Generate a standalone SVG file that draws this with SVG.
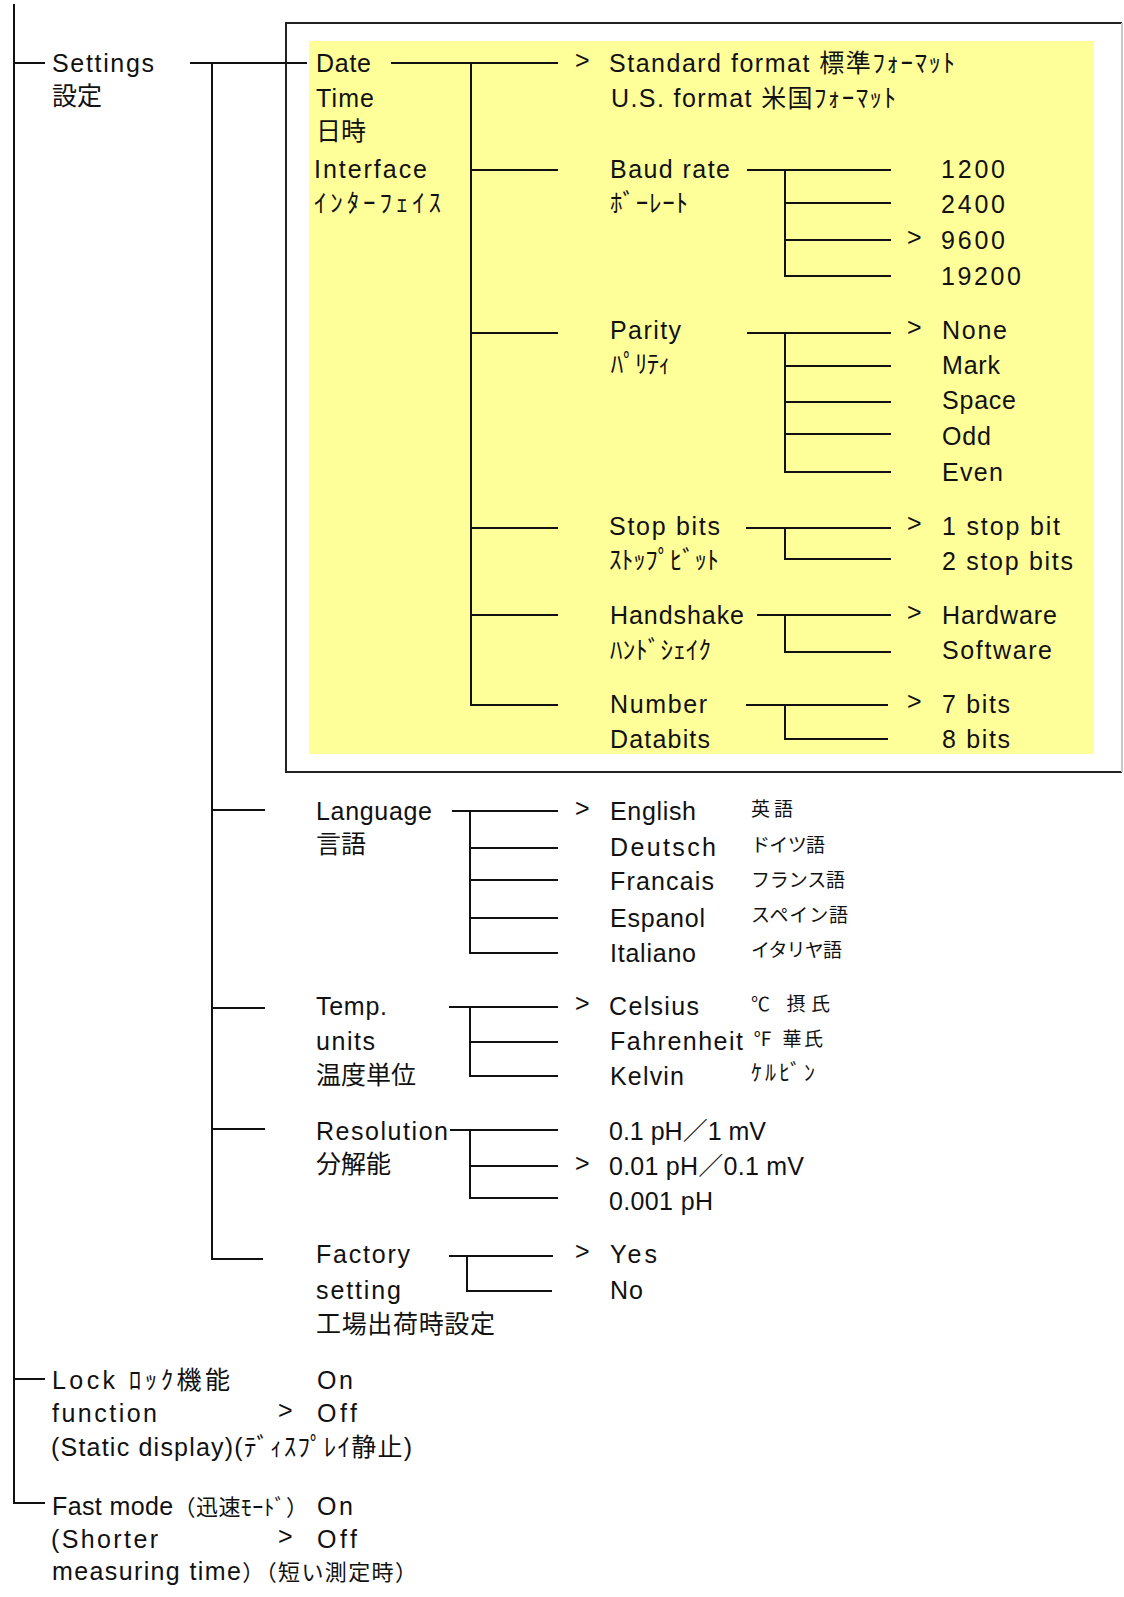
<svg xmlns="http://www.w3.org/2000/svg" width="1124" height="1597" viewBox="0 0 1124 1597">
<style>
text{font-family:'Liberation Sans','Noto Sans CJK JP',sans-serif;font-size:25px;fill:#111}
.s{font-size:19px}
.k{font-size:22px}
.c path{stroke:#111;stroke-width:2;fill:none}
</style>
<rect width="1124" height="1597" fill="#fff"/>
<g id="settings-box">
<path d="M1122 23 H286 V772 H1122" fill="none" stroke="#222" stroke-width="2"/>
<path d="M1122 23 V772" stroke="#c8c8c8" stroke-width="2"/>
<rect x="309" y="41" width="785" height="713" fill="#ffff99"/>
</g>
<g class="c" id="connectors">
<path d="M14 4 V1503 H45 M14 63 H45 M14 1379 H45"/>
<path d="M190 63 H307 M212 63 V1259 H263 M212 810 H265 M212 1008 H265 M212 1129 H265"/>
<path d="M391 63 H558 M471 63 V705 H558 M471 170 H558 M471 333 H558 M471 528 H558 M471 615 H558"/>
<path d="M747 170 H891 M785 170 V276 H891 M785 203 H891 M785 240 H891"/>
<path d="M747 333 H891 M785 333 V472 H891 M785 366 H891 M785 402 H891 M785 434 H891"/>
<path d="M746 528 H891 M785 528 V559 H891"/>
<path d="M757 615 H891 M785 615 V652 H891"/>
<path d="M746 705 H888 M785 705 V739 H888"/>
<path d="M452 811 H558 M470 811 V953 H558 M470 848 H558 M470 880 H558 M470 918 H558"/>
<path d="M449 1007 H558 M470 1007 V1076 H558 M470 1042 H558"/>
<path d="M450 1130 H558 M470 1130 V1198 H558 M470 1166 H558"/>
<path d="M449 1256 H553 M467 1256 V1291 H552"/>
</g>
<g id="settings">
<text x="52" y="72" textLength="102" lengthAdjust="spacing">Settings</text>
<text x="52" y="105">設定</text>
</g>
<g id="date-time">
<text x="316" y="72" textLength="55" lengthAdjust="spacing">Date</text>
<text x="316" y="107" textLength="58" lengthAdjust="spacing">Time</text>
<text x="316" y="140">日時</text>
</g>
<g id="date-options">
<text x="575" y="69">&gt;</text>
<text x="609" y="72" textLength="346" lengthAdjust="spacing">Standard format 標準ﾌｫｰﾏｯﾄ</text>
<text x="611" y="107" textLength="285" lengthAdjust="spacing">U.S. format 米国ﾌｫｰﾏｯﾄ</text>
</g>
<g id="interface">
<text x="314" y="178" textLength="113" lengthAdjust="spacing">Interface</text>
<text x="314" y="212" textLength="127" lengthAdjust="spacing">ｲﾝﾀｰﾌｪｲｽ</text>
</g>
<g id="baud-rate">
<text x="610" y="178" textLength="120" lengthAdjust="spacing">Baud rate</text>
<text x="610" y="212" textLength="78" lengthAdjust="spacing">ﾎﾞｰﾚｰﾄ</text>
</g>
<g id="baud-options">
<text x="941" y="178" textLength="64" lengthAdjust="spacing">1200</text>
<text x="941" y="213" textLength="64" lengthAdjust="spacing">2400</text>
<text x="907" y="246">&gt;</text>
<text x="941" y="249" textLength="64" lengthAdjust="spacing">9600</text>
<text x="941" y="285" textLength="80" lengthAdjust="spacing">19200</text>
</g>
<g id="parity">
<text x="610" y="339" textLength="71" lengthAdjust="spacing">Parity</text>
<text x="610" y="373" textLength="60" lengthAdjust="spacing">ﾊﾟﾘﾃｨ</text>
</g>
<g id="parity-options">
<text x="907" y="336">&gt;</text>
<text x="942" y="339" textLength="65" lengthAdjust="spacing">None</text>
<text x="942" y="374" textLength="58" lengthAdjust="spacing">Mark</text>
<text x="942" y="409" textLength="74" lengthAdjust="spacing">Space</text>
<text x="942" y="445" textLength="49" lengthAdjust="spacing">Odd</text>
<text x="942" y="481" textLength="61" lengthAdjust="spacing">Even</text>
</g>
<g id="stop-bits">
<text x="609" y="535" textLength="111" lengthAdjust="spacing">Stop bits</text>
<text x="609" y="569" textLength="110" lengthAdjust="spacing">ｽﾄｯﾌﾟﾋﾞｯﾄ</text>
</g>
<g id="stop-options">
<text x="907" y="532">&gt;</text>
<text x="942" y="535" textLength="118" lengthAdjust="spacing">1 stop bit</text>
<text x="942" y="570" textLength="131" lengthAdjust="spacing">2 stop bits</text>
</g>
<g id="handshake">
<text x="610" y="624" textLength="134" lengthAdjust="spacing">Handshake</text>
<text x="610" y="659" textLength="101" lengthAdjust="spacing">ﾊﾝﾄﾞｼｪｲｸ</text>
</g>
<g id="handshake-options">
<text x="907" y="621">&gt;</text>
<text x="942" y="624" textLength="115" lengthAdjust="spacing">Hardware</text>
<text x="942" y="659" textLength="110" lengthAdjust="spacing">Software</text>
</g>
<g id="databits">
<text x="610" y="713" textLength="97" lengthAdjust="spacing">Number</text>
<text x="610" y="748" textLength="100" lengthAdjust="spacing">Databits</text>
</g>
<g id="databits-options">
<text x="907" y="710">&gt;</text>
<text x="942" y="713" textLength="68" lengthAdjust="spacing">7 bits</text>
<text x="942" y="748" textLength="68" lengthAdjust="spacing">8 bits</text>
</g>
<g id="language">
<text x="316" y="820" textLength="116" lengthAdjust="spacing">Language</text>
<text x="316" y="853">言語</text>
</g>
<g id="language-options">
<text x="575" y="817">&gt;</text>
<text x="610" y="820" textLength="86" lengthAdjust="spacing">English</text>
<text x="610" y="856" textLength="106" lengthAdjust="spacing">Deutsch</text>
<text x="610" y="890" textLength="104" lengthAdjust="spacing">Francais</text>
<text x="610" y="927" textLength="95" lengthAdjust="spacing">Espanol</text>
<text x="610" y="962" textLength="86" lengthAdjust="spacing">Italiano</text>
<text class="s" x="751" y="816" textLength="42" lengthAdjust="spacing">英語</text>
<text class="s" x="751" y="852" textLength="74" lengthAdjust="spacing">ドイツ語</text>
<text class="s" x="751" y="887" textLength="94" lengthAdjust="spacing">フランス語</text>
<text class="s" x="751" y="922" textLength="97" lengthAdjust="spacing">スペイン語</text>
<text class="s" x="751" y="957" textLength="91" lengthAdjust="spacing">イタリヤ語</text>
</g>
<g id="temp-units">
<text x="316" y="1015" textLength="71" lengthAdjust="spacing">Temp.</text>
<text x="316" y="1050" textLength="59" lengthAdjust="spacing">units</text>
<text x="316" y="1084">温度単位</text>
</g>
<g id="temp-options">
<text x="575" y="1012">&gt;</text>
<text x="609" y="1015" textLength="90" lengthAdjust="spacing">Celsius</text>
<text x="610" y="1050" textLength="133" lengthAdjust="spacing">Fahrenheit</text>
<text x="610" y="1085" textLength="74" lengthAdjust="spacing">Kelvin</text>
<text class="s" x="751" y="1011" textLength="79" lengthAdjust="spacing">℃ 摂氏</text>
<text class="s" x="753" y="1046" textLength="70" lengthAdjust="spacing">℉ 華氏</text>
<text class="k" x="751" y="1080" textLength="64" lengthAdjust="spacing">ｹﾙﾋﾞﾝ</text>
</g>
<g id="resolution">
<text x="316" y="1140" textLength="132" lengthAdjust="spacing">Resolution</text>
<text x="316" y="1173">分解能</text>
</g>
<g id="resolution-options">
<text x="609" y="1140" textLength="157" lengthAdjust="spacing">0.1 pH／1 mV</text>
<text x="575" y="1172">&gt;</text>
<text x="609" y="1175" textLength="195" lengthAdjust="spacing">0.01 pH／0.1 mV</text>
<text x="609" y="1210" textLength="104" lengthAdjust="spacing">0.001 pH</text>
</g>
<g id="factory-setting">
<text x="316" y="1263" textLength="94" lengthAdjust="spacing">Factory</text>
<text x="316" y="1299" textLength="85" lengthAdjust="spacing">setting</text>
<text x="316" y="1333" textLength="179" lengthAdjust="spacing">工場出荷時設定</text>
</g>
<g id="factory-options">
<text x="575" y="1260">&gt;</text>
<text x="610" y="1263" textLength="47" lengthAdjust="spacing">Yes</text>
<text x="610" y="1299" textLength="33" lengthAdjust="spacing">No</text>
</g>
<g id="lock-function">
<text x="52" y="1389" textLength="178" lengthAdjust="spacing">Lock ﾛｯｸ機能</text>
<text x="52" y="1422" textLength="105" lengthAdjust="spacing">function</text>
<text x="51" y="1456" textLength="361" lengthAdjust="spacing">(Static display)(ﾃﾞｨｽﾌﾟﾚｲ静止)</text>
</g>
<g id="lock-options">
<text x="317" y="1389" textLength="36" lengthAdjust="spacing">On</text>
<text x="278" y="1419">&gt;</text>
<text x="317" y="1422" textLength="40" lengthAdjust="spacing">Off</text>
</g>
<g id="fast-mode">
<text x="52" y="1515" textLength="256" lengthAdjust="spacing">Fast mode<tspan font-size="22">（迅速ﾓｰﾄﾞ）</tspan></text>
<text x="51" y="1548" textLength="107" lengthAdjust="spacing">(Shorter</text>
<text x="52" y="1580" textLength="365" lengthAdjust="spacing">measuring time<tspan font-size="22">）（短い測定時）</tspan></text>
</g>
<g id="fast-options">
<text x="317" y="1515" textLength="36" lengthAdjust="spacing">On</text>
<text x="278" y="1545">&gt;</text>
<text x="317" y="1548" textLength="40" lengthAdjust="spacing">Off</text>
</g>
</svg>
